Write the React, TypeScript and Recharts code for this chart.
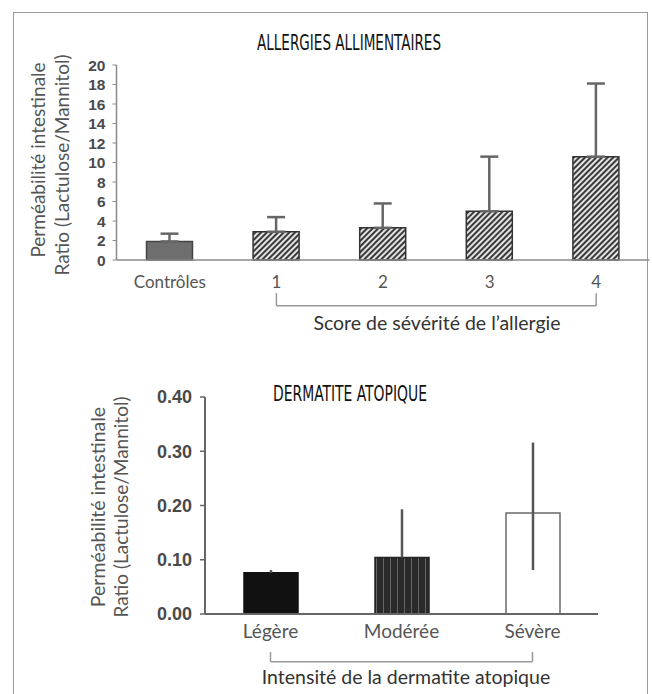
import { BarChart, Bar, XAxis, YAxis, ErrorBar, Cell, ReferenceLine } from "recharts";

// Allergies alimentaires
const ALLERGY_CATS = ["Contrôles", "1", "2", "3", "4"];
const ALLERGY_MEAN = [1.9, 2.9, 3.3, 5.0, 10.6];
const ALLERGY_SD = [0.8, 1.5, 2.5, 5.6, 7.5];
const ALLERGY_TICKS = [0, 2, 4, 6, 8, 10, 12, 14, 16, 18, 20];
const ALLERGY_FILLS = ["#6e6e6e", "url(#hatch)", "url(#hatch)", "url(#hatch)", "url(#hatch)"];

// Dermatite atopique
const DERMA_CATS = ["Légère", "Modérée", "Sévère"];
const DERMA_MEAN = [0.076, 0.104, 0.186];
const DERMA_ERR_LOW = [0, 0, 0.105];
const DERMA_ERR_HIGH = [0.005, 0.089, 0.13];
const DERMA_TICKS = [0, 0.1, 0.2, 0.3, 0.4];
const DERMA_FILLS = ["#111111", "url(#vstripes)", "#ffffff"];
const DERMA_STROKES = ["#111111", "#222222", "#6a6a6a"];

const TITLE_FONT = "'Liberation Sans Narrow', 'DejaVu Sans Condensed', sans-serif";
const LABEL_FONT = "Lato, 'Open Sans', sans-serif";
const TICK_FONT = "'Liberation Sans', Arial, sans-serif";

const allergyData = ALLERGY_CATS.map((cat, i) => ({
  cat,
  mean: ALLERGY_MEAN[i],
  err: [0, ALLERGY_SD[i]],
}));

const dermaData = DERMA_CATS.map((cat, i) => ({
  cat,
  mean: DERMA_MEAN[i],
  err: [DERMA_ERR_LOW[i], DERMA_ERR_HIGH[i]],
}));

const AXIS = "#8a8a8a";

export default function App() {
  return (
    <div style={{ position: "absolute", left: 0, top: 0, width: 652, height: 694, overflow: "hidden", background: "#fff" }}>
      <svg width={0} height={0} style={{ position: "absolute" }}>
        <defs>
          <pattern id="hatch" patternUnits="userSpaceOnUse" width={4} height={4} patternTransform="rotate(45)">
            <rect width={4} height={4} fill="#e2e2e2" />
            <line x1={1} y1={0} x2={1} y2={4} stroke="#3a3a3a" strokeWidth={2} />
          </pattern>
          <pattern id="vstripes" patternUnits="userSpaceOnUse" width={7} height={7}>
            <rect width={7} height={7} fill="#2a2a2a" />
            <line x1={5.5} y1={0} x2={5.5} y2={7} stroke="#666" strokeWidth={1} />
          </pattern>
        </defs>
      </svg>

      {/* frame */}
      <div style={{ position: "absolute", left: 13, top: 12, width: 633, height: 700, borderLeft: "1.5px solid #9a9a9a", borderTop: "1.5px solid #9a9a9a", borderRight: "1.5px solid #9a9a9a" }} />

      <div style={{ position: "absolute", left: 0, top: 0 }}>
        <BarChart width={652} height={340} data={allergyData} margin={{ top: 65, right: 2.5, bottom: 50, left: 76.5 }}>
          <XAxis xAxisId="grid" type="number" domain={[0, 5]} ticks={[1, 2, 3, 4]} height={0}
            axisLine={false} tick={false} tickLine={{ stroke: "#a8a8a8", strokeWidth: 1.5 }} tickSize={3} />
          <XAxis xAxisId="cat" dataKey="cat" height={30} axisLine={{ stroke: AXIS, strokeWidth: 1.5 }}
            tickLine={false} tickSize={6} tickMargin={10}
            tick={{ fill: "#555", fontSize: 17, fontFamily: LABEL_FONT }} />
          <YAxis domain={[0, 20]} ticks={ALLERGY_TICKS} width={40} interval={0}
            axisLine={{ stroke: AXIS, strokeWidth: 1.5 }} tickLine={{ stroke: AXIS }} tickSize={4} tickMargin={7}
            tick={{ fill: "#4a4a4a", fontSize: 15.5, fontWeight: 700, fontFamily: TICK_FONT }} />
          <Bar xAxisId="cat" dataKey="mean" barSize={46} stroke="#333" strokeWidth={1.5} isAnimationActive={false}>
            {allergyData.map((d, i) => <Cell key={d.cat} fill={ALLERGY_FILLS[i]} stroke={i === 0 ? "#444" : "#333"} />)}
            <ErrorBar dataKey="err" width={9} stroke="#666" strokeWidth={2.5} direction="y" />
          </Bar>
          <ReferenceLine xAxisId="cat" ifOverflow="visible" stroke="#999" strokeWidth={1.5}
            segment={[{ x: "1", y: -3.4 }, { x: "1", y: -4.7 }]} />
          <ReferenceLine xAxisId="cat" ifOverflow="visible" stroke="#999" strokeWidth={1.5}
            segment={[{ x: "1", y: -4.7 }, { x: "4", y: -4.7 }]} />
          <ReferenceLine xAxisId="cat" ifOverflow="visible" stroke="#999" strokeWidth={1.5}
            segment={[{ x: "4", y: -4.7 }, { x: "4", y: -3.4 }]} />
        </BarChart>
      </div>

      <div style={{ position: "absolute", left: 0, top: 340 }}>
        <BarChart width={652} height={354} data={dermaData} margin={{ top: 57, right: 54, bottom: 50, left: 145 }}>
          <XAxis xAxisId="grid" type="number" domain={[0, 3]} ticks={[1, 2, 3]} height={0}
            axisLine={false} tick={false} tickLine={{ stroke: "#555", strokeWidth: 1.5 }} tickSize={5} />
          <XAxis xAxisId="cat" dataKey="cat" height={30} axisLine={{ stroke: "#666", strokeWidth: 2 }}
            tickLine={false} tickSize={6} tickMargin={5}
            tick={{ fill: "#555", fontSize: 19, fontFamily: LABEL_FONT }} />
          <YAxis domain={[0, 0.4]} ticks={DERMA_TICKS} width={60} interval={0}
            tickFormatter={(v: number) => v.toFixed(2)}
            axisLine={{ stroke: "#666", strokeWidth: 2 }} tickLine={{ stroke: "#666", strokeWidth: 1.5 }}
            tickSize={5} tickMargin={8}
            tick={{ fill: "#4a4a4a", fontSize: 18, fontWeight: 700, fontFamily: TICK_FONT }} />
          <Bar xAxisId="cat" dataKey="mean" barSize={54} strokeWidth={1.5} isAnimationActive={false}>
            {dermaData.map((d, i) => <Cell key={d.cat} fill={DERMA_FILLS[i]} stroke={DERMA_STROKES[i]} />)}
            <ErrorBar dataKey="err" width={0} stroke="#555" strokeWidth={2.5} direction="y" />
          </Bar>
          <ReferenceLine xAxisId="cat" ifOverflow="visible" stroke="#999" strokeWidth={1.5}
            segment={[{ x: "Légère", y: -0.07 }, { x: "Légère", y: -0.088 }]} />
          <ReferenceLine xAxisId="cat" ifOverflow="visible" stroke="#999" strokeWidth={1.5}
            segment={[{ x: "Légère", y: -0.088 }, { x: "Sévère", y: -0.088 }]} />
          <ReferenceLine xAxisId="cat" ifOverflow="visible" stroke="#999" strokeWidth={1.5}
            segment={[{ x: "Sévère", y: -0.088 }, { x: "Sévère", y: -0.07 }]} />
        </BarChart>
      </div>

      {/* titles and axis captions */}
      <svg width={652} height={694} style={{ position: "absolute", left: 0, top: 0, pointerEvents: "none" }}>
        <text x={349} y={49.5} textAnchor="middle" fontFamily={TITLE_FONT} fontSize={21} textLength={184}
          lengthAdjust="spacingAndGlyphs" fill="#111">
          ALLERGIES ALLIMENTAIRES
        </text>
        <text x={350} y={400.5} textAnchor="middle" fontFamily={TITLE_FONT} fontSize={21} textLength={154}
          lengthAdjust="spacingAndGlyphs" fill="#111">
          DERMATITE ATOPIQUE
        </text>

        <g fontFamily={LABEL_FONT} fill="#555" textAnchor="middle" dominantBaseline="central">
          <text x={37} y={160} fontSize={19} transform="rotate(-90 37 160)">Perméabilité intestinale</text>
          <text x={61} y={165} fontSize={19} transform="rotate(-90 61 165)">Ratio (Lactulose/Mannitol)</text>
          <text x={97} y={507} fontSize={19.5} transform="rotate(-90 97 507)">Perméabilité intestinale</text>
          <text x={120} y={507} fontSize={19} transform="rotate(-90 120 507)">Ratio (Lactulose/Mannitol)</text>
        </g>

        <text x={437} y={330} textAnchor="middle" fontFamily={LABEL_FONT} fontSize={19.5} fill="#333">
          Score de sévérité de l’allergie
        </text>
        <text x={406} y={684} textAnchor="middle" fontFamily={LABEL_FONT} fontSize={19.5} fill="#333">
          Intensité de la dermatite atopique
        </text>
      </svg>
    </div>
  );
}
